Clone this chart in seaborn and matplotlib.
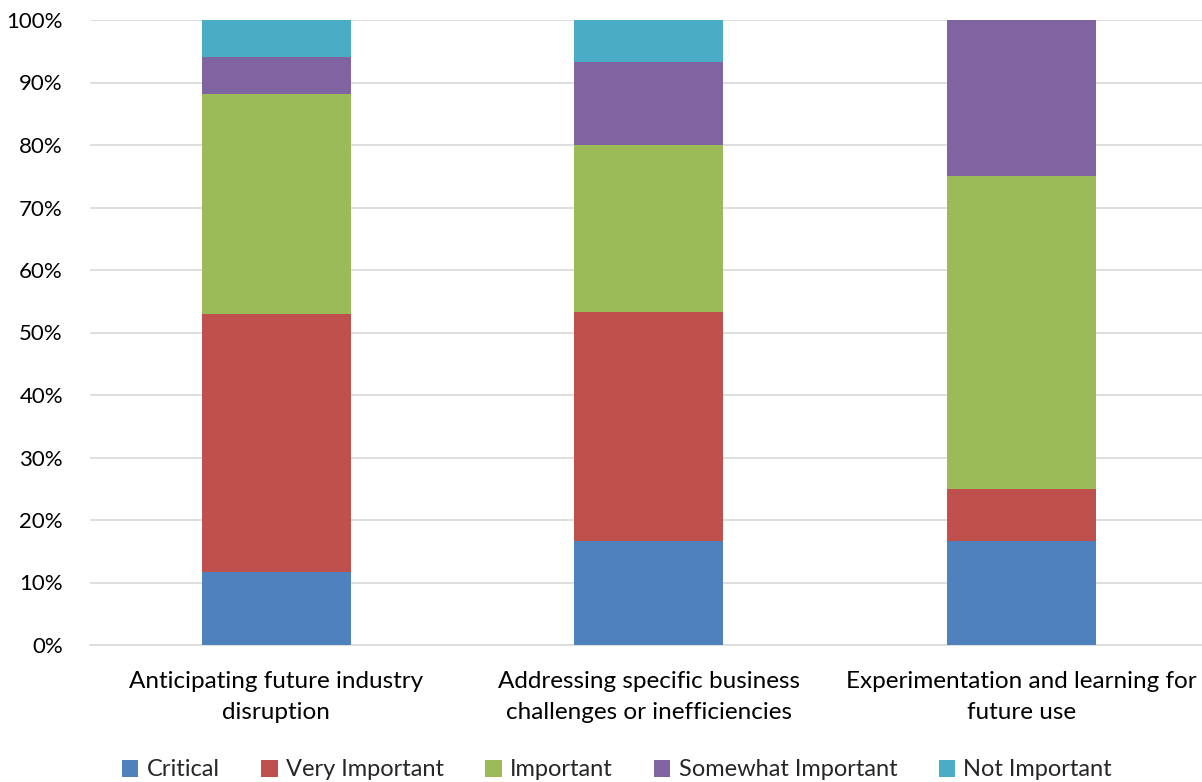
import matplotlib
matplotlib.use("Agg")
import matplotlib.pyplot as plt
from matplotlib.patches import Patch
from matplotlib.ticker import PercentFormatter
import numpy as np
import pandas as pd
import seaborn as sns

categories = [
    "Anticipating future industry\ndisruption",
    "Addressing specific business\nchallenges or inefficiencies",
    "Experimentation and learning for\nfuture use",
]
series_names = ["Critical", "Very Important", "Important", "Somewhat Important", "Not Important"]
critical = [11.76, 16.67, 16.67]
very_important = [41.18, 36.67, 8.33]
important = [35.29, 26.67, 50.00]
somewhat_important = [5.88, 13.33, 25.00]
not_important = [5.88, 6.67, 0.00]
colors = ["#4F81BD", "#C0504D", "#9BBB59", "#8064A2", "#4BACC6"]
y_ticks = [0, 10, 20, 30, 40, 50, 60, 70, 80, 90, 100]

sns.set_theme(style="white")
plt.rcParams["font.family"] = ["Lato", "DejaVu Sans"]

values = np.array([critical, very_important, important, somewhat_important, not_important])
cumulative = np.cumsum(values, axis=0)

fig = plt.figure(figsize=(12.02, 7.82), dpi=100)
ax = fig.add_axes([90 / 1202, 137 / 782, 1117.5 / 1202, 625 / 782])

# draw the stack from the top layer down so each lower layer covers the one above
for i in range(len(series_names) - 1, -1, -1):
    df = pd.DataFrame({"category": categories, "value": cumulative[i]})
    sns.barplot(data=df, x="category", y="value", color=colors[i], saturation=1,
                width=0.4, ax=ax, linewidth=0, zorder=3)

ax.set_ylim(0, 100)
ax.set_xlim(-0.5, 2.5)
ax.set_yticks(y_ticks)
ax.yaxis.set_major_formatter(PercentFormatter(decimals=0))
ax.grid(axis="y", color="#D9D9D9", linewidth=1.2, zorder=0)
ax.set_axisbelow(True)
for s in ["top", "right", "left"]:
    ax.spines[s].set_visible(False)
ax.spines["bottom"].set_color("#D9D9D9")
ax.spines["bottom"].set_linewidth(1.2)
ax.set_xlabel("")
ax.set_ylabel("")
ax.tick_params(axis="both", length=0, colors="black")
ax.tick_params(axis="y", pad=19.5, labelsize=16)
ax.tick_params(axis="x", pad=19, labelsize=17.5)
for lbl in ax.get_yticklabels():
    lbl.set_horizontalalignment("right")
for lbl in ax.get_xticklabels():
    lbl.set_linespacing(1.55)

handles = [Patch(facecolor=c, edgecolor="none") for c in colors]
fig.legend(handles, series_names, loc="center", bbox_to_anchor=(617 / 1202, 12 / 782),
           ncol=5, frameon=False, fontsize=17, handlelength=0.7, handleheight=0.7,
           handletextpad=0.35, columnspacing=1.75)

fig.savefig("out.png", dpi=100)
